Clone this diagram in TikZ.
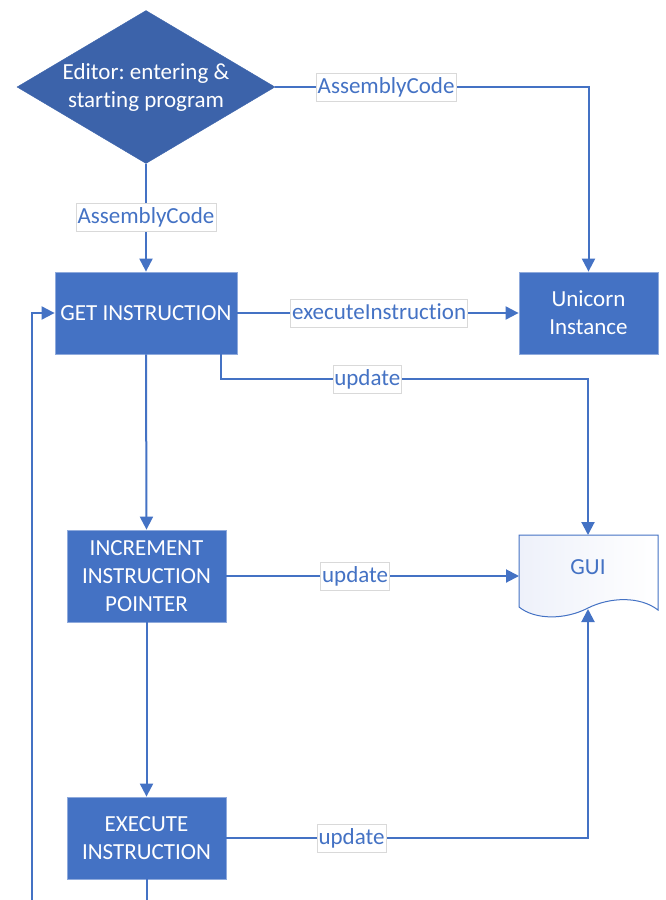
\documentclass[tikz,border=0pt]{standalone}
\usepackage{fontspec}
\setmainfont{Carlito}[Ligatures=NoCommon]
\usetikzlibrary{shapes.geometric,arrows.meta}
\definecolor{cblue}{HTML}{4472C4}
\definecolor{cdark}{HTML}{3C63AA}
\definecolor{boxline}{HTML}{8FAADC}
\definecolor{lblborder}{HTML}{D9D9D9}
\definecolor{guishade}{HTML}{EEF1FA}
\begin{document}
\frenchspacing
\begin{tikzpicture}[x=1pt,y=-1pt,
  txt/.style={font=\fontsize{23}{28}\selectfont},
  box/.style={txt, draw=boxline, line width=0.8pt, fill=cblue, text=white, align=center, inner sep=0pt},
  dia/.style={txt, shape=diamond, aspect=1.686, draw=cdark, fill=cdark, text=white, align=center, inner sep=0pt, minimum width=258pt, minimum height=153pt},
  conn/.style={draw=cblue, line width=2pt, -{Triangle[length=13pt,width=13pt]}},
  lbl/.style={txt, fill=white, draw=lblborder, line width=0.6pt, text=cblue, inner xsep=1.5pt, inner ysep=0pt, minimum height=28pt, text height=17pt, text depth=5pt}
]
\useasboundingbox (0,0) rectangle (665,900);

\node[dia] (ed) at (146,87) {Editor: entering {\char38}\\starting program};
\node[box, minimum width=182pt, minimum height=82pt] (get) at (146,313) {GET INSTRUCTION};
\node[box, minimum width=139pt, minimum height=82pt] (uni) at (588.5,313) {Unicorn\\Instance};
\node[box, minimum width=159pt, minimum height=92pt] (inc) at (146.5,576) {INCREMENT\\INSTRUCTION\\POINTER};
\node[box, minimum width=159pt, minimum height=82pt] (exe) at (146.5,838) {EXECUTE\\INSTRUCTION};

% GUI document shape
\shade[left color=guishade, right color=white, draw=cblue, line width=1pt]
  (519,535) -- (658,535) -- (658,610)
  .. controls (640,596) and (610,597) .. (588,608)
  .. controls (565,620) and (535,620) .. (519,607) -- cycle;
\node[txt, text=cblue] (gui) at (588,567) {GUI};
\coordinate (guiN) at (588,535);
\coordinate (guiW) at (519,576);
\coordinate (guiS) at (588,609);
\coordinate (lp) at (32,915);

\draw[conn] (ed.east) -| node[lbl, pos=0.177] {AssemblyCode} (uni.north);
\draw[conn] (ed.south) -- node[lbl] {AssemblyCode} (get.north);
\draw[conn] (get.east) -- node[lbl, pos=0.504] {executeInstruction} (uni.west);
\draw[conn] ([xshift=-16pt]get.south east) -- ++(0,25) -| node[lbl, pos=0.199] {update} (guiN);
\draw[conn] (get.south) -- (inc.north);
\draw[conn] (inc.east) -- node[lbl, pos=0.44] {update} (guiW);
\draw[conn] (inc.south) -- (exe.north);
\draw[conn] (exe.east) -| node[lbl, pos=0.173] {update} (guiS);
\draw[conn] (exe.south) |- (lp) |- (get.west);
\end{tikzpicture}
\end{document}
